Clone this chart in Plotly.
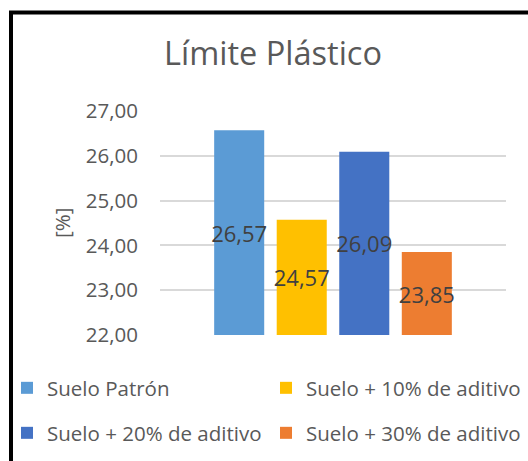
import plotly.graph_objects as go

series_names = ["Suelo Patrón", "Suelo + 10% de aditivo", "Suelo + 20% de aditivo", "Suelo + 30% de aditivo"]
values = [26.57, 24.57, 26.09, 23.85]
colors = ["#5B9BD5", "#FFC000", "#4472C4", "#ED7D31"]
category = ["Límite Plástico"]
y_ticks = [22, 23, 24, 25, 26, 27]

FONT = "Open Sans"
W, H = 528, 461
L, R, T, B = 160, 22, 111, 126
pw, ph = W - L - R, H - T - B
Y_MIN, Y_MAX = 22, 27

def px_x(p):
    return (p - L) / pw

def px_y(p):
    return (H - B - p) / ph

# legend slots (left px, centre y px) for the 2x2 Excel-style legend
legend_slots = [(7, 388), (266, 388), (7, 433), (266, 433)]
legend_ids = ["legend", "legend2", "legend3", "legend4"]

fig = go.Figure()
for i, (name, v, c) in enumerate(zip(series_names, values, colors)):
    fig.add_trace(go.Bar(
        x=category, y=[v - Y_MIN], base=Y_MIN, customdata=[v],
        name=name, marker_color=c, marker_line_width=0,
        texttemplate="%{customdata:.2f}", hovertemplate="%{customdata:.2f}<extra>" + name + "</extra>",
        textposition="inside", insidetextanchor="middle",
        textangle=0, constraintext="none",
        textfont=dict(family=FONT, size=22, color="#404040"),
        legend=legend_ids[i],
    ))

legend_common = dict(
    orientation="h", xanchor="left", yanchor="middle",
    font=dict(family=FONT, size=20.5, color="#595959"),
    bgcolor="rgba(0,0,0,0)", borderwidth=0,
)
legends = {}
for lid, (lx, ly) in zip(legend_ids, legend_slots):
    legends[lid] = dict(x=px_x(lx), y=px_y(ly), **legend_common)

fig.update_layout(
    width=W, height=H,
    margin=dict(l=L, r=R, t=T, b=B, autoexpand=False),
    paper_bgcolor="white", plot_bgcolor="white",
    separators=",.",
    barmode="group", bargap=0.277, bargroupgap=0.2,
    title=dict(text="Límite Plástico", x=273 / W, xanchor="center",
               y=1 - 54 / H, yanchor="middle", yref="container",
               font=dict(family=FONT, size=32.5, color="#595959")),
    xaxis=dict(showticklabels=False, showgrid=False, zeroline=False, showline=False, ticks=""),
    yaxis=dict(range=[Y_MIN, Y_MAX], tickvals=y_ticks, tickformat=".2f",
               showgrid=True, gridcolor="#D9D9D9", gridwidth=1.5,
               zeroline=False, showline=False, ticks="", ticklabelstandoff=21,
               tickfont=dict(family=FONT, size=20.5, color="#595959")),
    showlegend=True,
    annotations=[dict(text="[%]", textangle=-90, xref="paper", yref="paper",
                      x=px_x(62), y=0.5, xanchor="center", yanchor="middle",
                      showarrow=False, font=dict(family=FONT, size=20.5, color="#595959"))],
    shapes=[dict(type="rect", xref="paper", yref="paper",
                 x0=px_x(11), y0=px_y(480), x1=px_x(545), y1=px_y(12.5),
                 line=dict(color="black", width=4), fillcolor="rgba(0,0,0,0)")],
    **legends,
)

fig.write_html("out.html")
